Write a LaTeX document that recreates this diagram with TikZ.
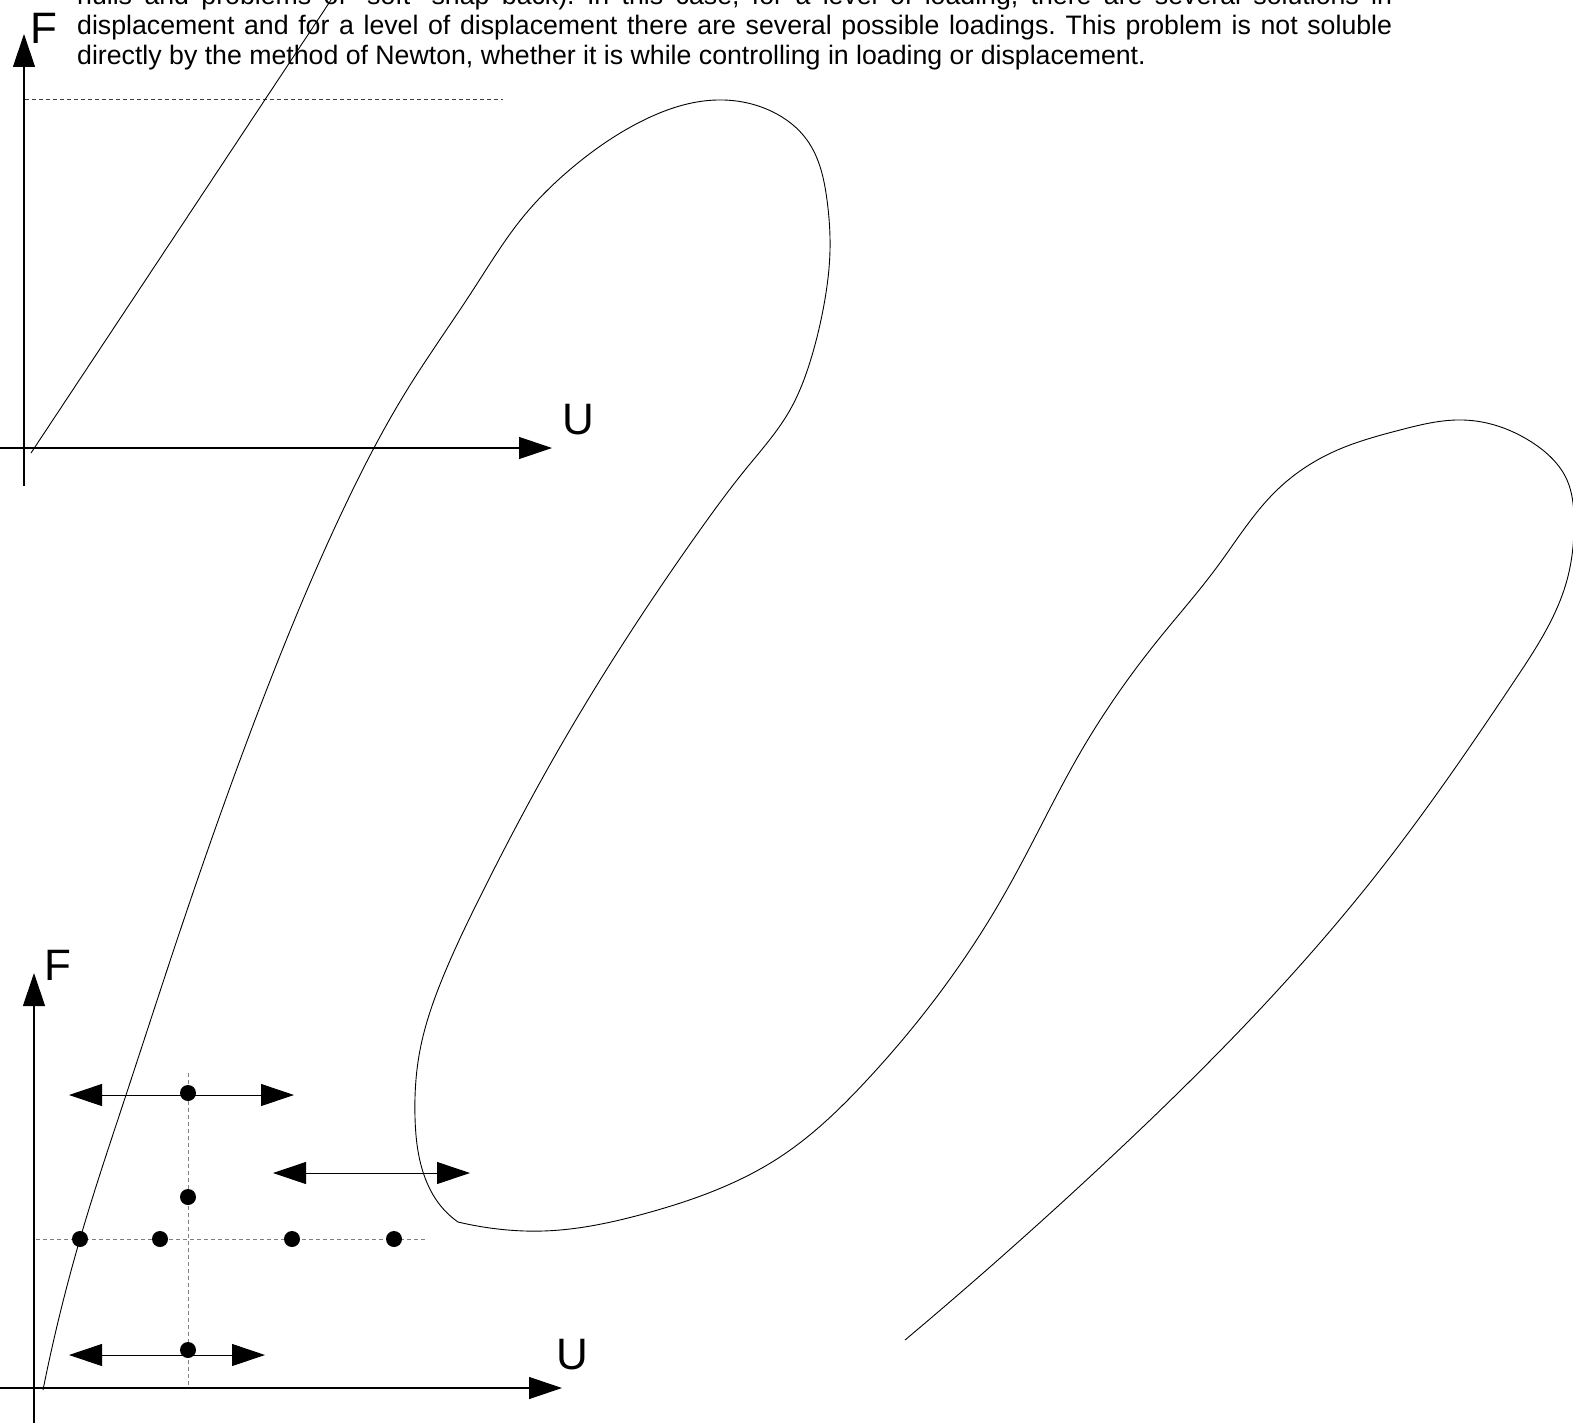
\documentclass[tikz,border=0pt]{standalone}
\usepackage{fontspec}
\setmainfont{Liberation Sans}
\usetikzlibrary{arrows.meta,hobby}
\begin{document}
\frenchspacing
\begin{tikzpicture}[x=1pt,y=-1pt,
  tri/.tip={Triangle[length=33pt,width=22pt]},
  axis/.style={line width=1.2pt,-tri},
  dblarrow/.style={line width=1pt,tri-tri},
  curve/.style={line width=0.9pt,line join=round},
  guide/.style={line width=0.9pt,gray,dash pattern=on 4pt off 3pt},
  darkguide/.style={guide,black!75},
  dot/.style={circle,fill=black,inner sep=0pt,minimum size=16pt},
  biglabel/.style={font=\fontsize{44}{50}\selectfont,inner sep=0pt},
  textline/.style={font=\fontsize{26.7}{30}\selectfont,inner sep=0pt,anchor=base west}]
\clip (0,0) rectangle (1573,1423);

% text
\node[textline] (l1) at (77,5) {\makebox[1315pt][s]{nulls and problems of "soft" snap back). In this case, for a level of loading, there are several solutions in}};
\node[textline] (l2) at (77,35) {\makebox[1315pt][s]{displacement and for a level of displacement there are several possible loadings. This problem is not soluble}};
\node[textline] (l3) at (77,65) {directly by the method of Newton, whether it is while controlling in loading or displacement.};

% top graph
\coordinate (tyb) at (24,486);
\coordinate (tyt) at (24,34);
\coordinate (txl) at (0,448);
\coordinate (txr) at (552,448);
\draw[axis] (tyb) -- (tyt);
\draw[axis] (txl) -- (txr);
\node[biglabel] (tF) at (44,28) {F};
\node[biglabel] (tU) at (578,420) {U};
\coordinate (dl) at (25,99);
\coordinate (dr) at (503,99);
\draw[darkguide] (dl) -- (dr);
\coordinate (sa) at (31,453);
\coordinate (sb) at (331,0);
\draw[curve] (sa) -- (sb);

% bottom graph
\coordinate (byb) at (34,1423);
\coordinate (byt) at (34,973);
\coordinate (bxl) at (0,1388);
\coordinate (bxr) at (562,1388);
\draw[axis] (byb) -- (byt);
\draw[axis] (bxl) -- (bxr);
\node[biglabel] (bF) at (58,965) {F};
\node[biglabel] (bU) at (572,1355) {U};

\coordinate (vdt) at (188,1073);
\coordinate (vdb) at (188,1387);
\coordinate (hdl) at (36,1239);
\coordinate (hdr) at (427,1239);
\draw[guide] (vdt) -- (vdb);
\draw[guide] (hdl) -- (hdr);

% big curve (two pieces meeting at a slight corner)
\coordinate (cs) at (43,1390);
\coordinate (ck) at (458,1222);
\coordinate (ce) at (905,1340);
\draw[curve] (cs) to[curve through={(80,1239) .. (126,1095) .. (177,940) .. (255,720) .. (343,510) .. (407,390) .. (473,290) .. (523,217) .. (573,167) .. (640,122) .. (717,100) .. (773,112) .. (807,140) .. (827,200) .. (830,250) .. (823,310) .. (810,362) .. (790,410) .. (745,470) .. (700,530) .. (647,607) .. (560,747) .. (480,897) .. (443,977) .. (420,1050) .. (415,1117) .. (424,1175) .. (440,1205)}] (ck);
\draw[curve] (ck) to[curve through={(490,1228) .. (543,1231) .. (647,1213) .. (780,1157) .. (867,1080) .. (947,983) .. (997,907) .. (1030,847) .. (1080,753) .. (1158,640) .. (1217,567) .. (1277,490) .. (1333,452) .. (1400,430) .. (1463,420) .. (1533,443) .. (1567,480) .. (1574,520) .. (1567,580) .. (1515,680) .. (1380,870) .. (1247,1023) .. (1109,1159)}] (ce);

% double arrows
\coordinate (a1l) at (69,1095);
\coordinate (a1r) at (294,1095);
\coordinate (a2l) at (273,1173);
\coordinate (a2r) at (470,1173);
\coordinate (a3l) at (69,1355);
\coordinate (a3r) at (265,1355);
\draw[dblarrow] (a1l) -- (a1r);
\draw[dblarrow] (a2l) -- (a2r);
\draw[dblarrow] (a3l) -- (a3r);

% dots
\node[dot] (d1) at (188,1093) {};
\node[dot] (d2) at (188,1197) {};
\node[dot] (d3) at (80,1239) {};
\node[dot] (d4) at (160,1239) {};
\node[dot] (d5) at (292,1239) {};
\node[dot] (d6) at (394,1239) {};
\node[dot] (d7) at (188,1350) {};
\end{tikzpicture}
\end{document}
